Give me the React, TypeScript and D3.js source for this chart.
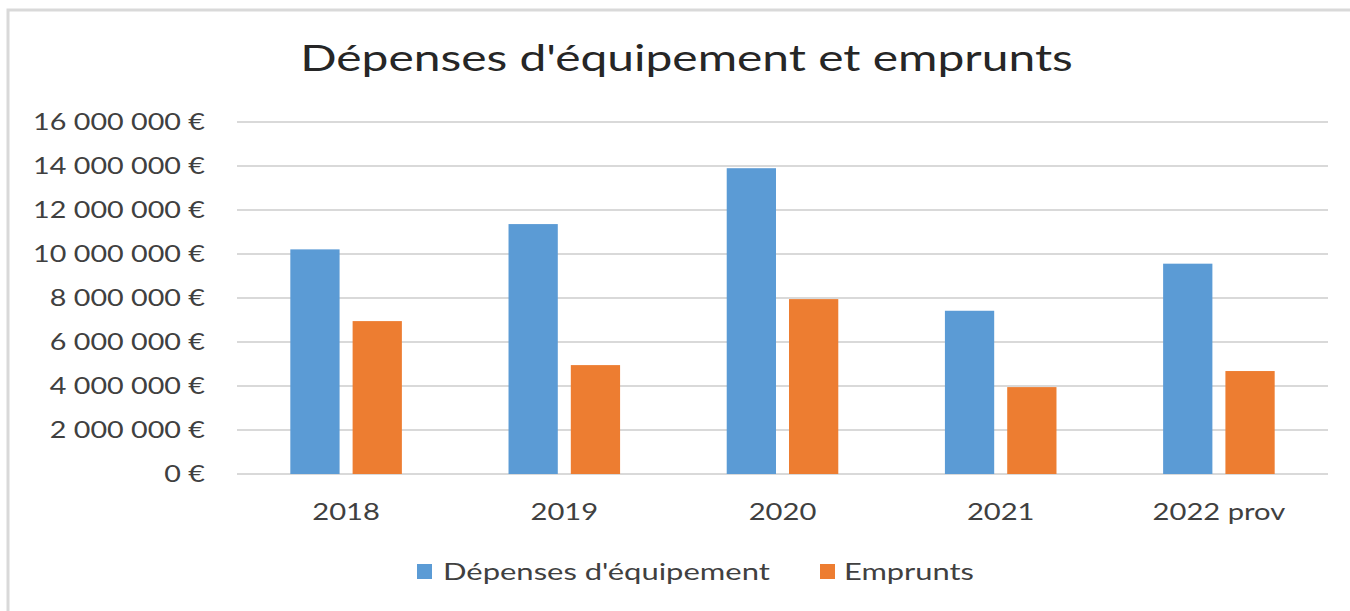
import React, { useEffect, useRef } from "react";
import * as d3 from "d3";

const categories = ["2018", "2019", "2020", "2021", "2022 prov"];
const seriesNames = ["Dépenses d'équipement", "Emprunts"];
const depenses = [10210000, 11360000, 13900000, 7420000, 9560000];
const emprunts = [6950000, 4950000, 7950000, 3950000, 4680000];
const yTicks = [0, 2000000, 4000000, 6000000, 8000000, 10000000, 12000000, 14000000, 16000000];
const colors = ["#5B9BD5", "#ED7D31"];

const W = 1350;
const H = 611;
const FONT = "Lato, 'Open Sans', sans-serif";

// stretch a text horizontally so that it takes the wanted width
function fit(sel: any, x: number, y: number, target: number) {
  const w = sel.node().getComputedTextLength();
  sel.attr("transform", `translate(${x},${y}) scale(${target / w},1)`);
}

export default function App() {
  const ref = useRef<SVGSVGElement>(null);

  useEffect(() => {
    const svg = d3.select(ref.current);
    svg.selectAll("*").remove();

    svg.append("rect").attr("width", W).attr("height", H).attr("fill", "#fff");
    // frame of the chart, right and bottom edges off the picture
    svg.append("rect")
      .attr("x", 8).attr("y", 10).attr("width", 1400).attr("height", 700)
      .attr("fill", "none").attr("stroke", "#d9d9d9").attr("stroke-width", 3);

    const left = 237, right = 1328, top = 122, bottom = 474;

    const y = d3.scaleLinear().domain([0, 16000000]).range([bottom, top]);
    const x0 = d3.scaleBand().domain(categories).range([left, right]).padding(0);
    const x1 = d3.scaleBand().domain(seriesNames).range([0, x0.bandwidth()])
      .paddingInner(0.209).paddingOuter(0.856);

    const loc = d3.formatLocale({ decimal: ",", thousands: " ", grouping: [3], currency: ["", " €"] });
    const fmt = loc.format(",.0f");

    // grid lines
    svg.append("g").selectAll("line").data(yTicks).enter().append("line")
      .attr("x1", left).attr("x2", right)
      .attr("y1", d => y(d)).attr("y2", d => y(d))
      .attr("stroke", "#d9d9d9").attr("stroke-width", 2);

    // y labels
    const yl = svg.append("g").attr("font-family", FONT).attr("font-size", 23).attr("fill", "#404040");
    const widest = yl.append("text").text(fmt(16000000) + " €");
    const k = 172 / (widest.node() as any).getComputedTextLength();
    widest.remove();
    yl.selectAll("text").data(yTicks).enter().append("text")
      .attr("text-anchor", "end").attr("dy", "0.36em")
      .attr("transform", d => `translate(205,${y(d)}) scale(${k},1)`)
      .text(d => fmt(d) + " €");

    // bars
    const values = [depenses, emprunts];
    const groups = svg.append("g").selectAll("g").data(categories).enter().append("g")
      .attr("transform", d => `translate(${x0(d)},0)`);
    groups.selectAll("rect")
      .data((d, i) => seriesNames.map((s, j) => ({ s, v: values[j][i], c: colors[j] })))
      .enter().append("rect")
      .attr("x", d => x1(d.s) as number)
      .attr("width", x1.bandwidth())
      .attr("y", d => y(d.v))
      .attr("height", d => bottom - y(d.v))
      .attr("fill", d => d.c);

    // x labels
    const xl = svg.append("g").attr("font-family", FONT).attr("font-size", 23).attr("fill", "#404040");
    const xw = xl.append("text").text("2018");
    const kx = 67.7 / (xw.node() as any).getComputedTextLength();
    xw.remove();
    xl.selectAll("text").data(categories).enter().append("text")
      .attr("text-anchor", "middle")
      .attr("transform", d => `translate(${(x0(d) as number) + x0.bandwidth() / 2},520) scale(${kx},1)`)
      .text(d => d);

    // title
    const t = svg.append("text").attr("font-family", FONT).attr("font-size", 37)
      .attr("fill", "#262626").attr("text-anchor", "middle")
      .text("Dépenses d'équipement et emprunts");
    fit(t, 686.5, 71, 773);

    // legend
    const leg = [
      { name: seriesNames[0], sx: 417, tx: 443, tw: 327 },
      { name: seriesNames[1], sx: 820, tx: 844, tw: 130 },
    ];
    leg.forEach((l, i) => {
      svg.append("rect").attr("x", l.sx).attr("y", 564).attr("width", 15).attr("height", 15).attr("fill", colors[i]);
      const lt = svg.append("text").attr("font-family", FONT).attr("font-size", 23).attr("fill", "#404040").text(l.name);
      fit(lt, l.tx, 580, l.tw);
    });
  }, []);

  return (
    <svg ref={ref} width={W} height={H} style={{ position: "absolute", left: 0, top: 0 }} />
  );
}
